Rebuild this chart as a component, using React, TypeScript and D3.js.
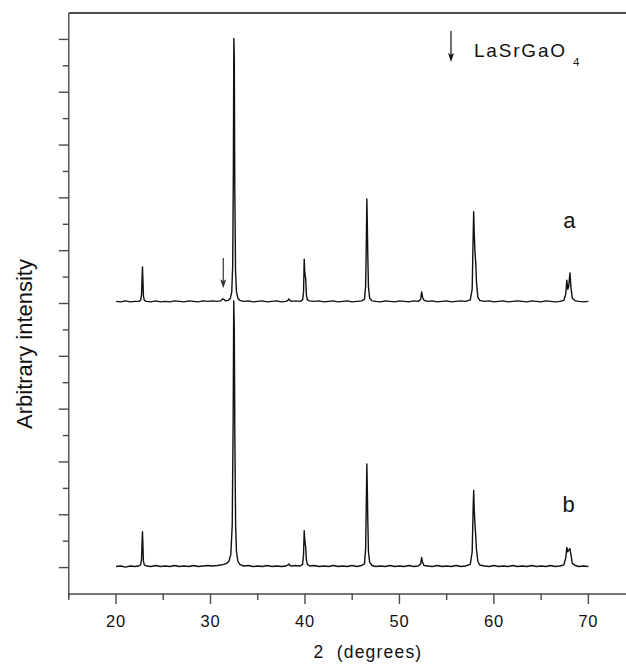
import React from "react";
import * as d3 from "d3";

// ---- data (2θ in degrees, intensity in arbitrary units) ----
const xMajorTicks = [20, 30, 40, 50, 60, 70];
const xMinorTicks = [15, 25, 35, 45, 55, 65, 75];
const yMajorTicks = [0, 1, 2, 3, 4, 5, 6, 7, 8, 9, 10];
const yMinorTicks = [0.5, 1.5, 2.5, 3.5, 4.5, 5.5, 6.5, 7.5, 8.5, 9.5];

const offsetA = 5.02;
const offsetB = 0.0;

const patternA: [number, number][] = [
  [20.0, 0.02], [20.5, 0.01], [21.0, 0.03], [21.5, 0.01], [22.0, 0.02], [22.4, 0.02], [22.6, 0.04],
  [22.7, 0.15], [22.75, 0.45], [22.8, 0.67], [22.85, 0.4], [22.9, 0.12], [23.0, 0.04], [23.2, 0.02],
  [23.7, 0.01], [24.2, 0.03], [24.7, 0.01], [25.2, 0.02], [25.7, 0.01], [26.2, 0.03], [26.7, 0.02],
  [27.2, 0.01], [27.7, 0.03], [28.2, 0.02], [28.7, 0.01], [29.2, 0.03], [29.7, 0.02], [30.2, 0.03],
  [30.7, 0.02], [31.1, 0.03], [31.3, 0.07], [31.4, 0.06], [31.6, 0.03], [31.9, 0.04], [32.1, 0.08],
  [32.25, 0.2], [32.35, 0.7], [32.42, 2.5], [32.47, 5.0], [32.52, 4.6], [32.57, 2.2], [32.65, 0.6],
  [32.75, 0.2], [32.9, 0.08], [33.1, 0.04], [33.5, 0.02], [34.0, 0.03], [34.5, 0.01], [35.0, 0.02],
  [35.5, 0.03], [36.0, 0.01], [36.5, 0.02], [37.0, 0.03], [37.5, 0.01], [38.0, 0.02], [38.2, 0.04],
  [38.3, 0.07], [38.4, 0.04], [38.6, 0.02], [39.0, 0.03], [39.5, 0.02], [39.75, 0.05], [39.85, 0.2],
  [39.92, 0.82], [39.97, 0.6], [40.03, 0.5], [40.08, 0.45], [40.15, 0.15], [40.25, 0.05], [40.5, 0.03],
  [41.0, 0.02], [41.5, 0.03], [42.0, 0.01], [42.5, 0.02], [43.0, 0.03], [43.5, 0.01], [44.0, 0.02],
  [44.5, 0.03], [45.0, 0.01], [45.5, 0.02], [46.0, 0.03], [46.3, 0.06], [46.42, 0.3], [46.5, 1.2],
  [46.55, 1.96], [46.6, 1.5], [46.65, 0.9], [46.72, 0.3], [46.85, 0.08], [47.1, 0.03], [47.5, 0.02],
  [48.0, 0.01], [48.5, 0.03], [49.0, 0.02], [49.5, 0.01], [50.0, 0.03], [50.5, 0.02], [51.0, 0.01],
  [51.5, 0.03], [52.0, 0.02], [52.25, 0.06], [52.35, 0.2], [52.45, 0.1], [52.6, 0.04], [53.0, 0.02],
  [53.5, 0.03], [54.0, 0.01], [54.5, 0.02], [55.0, 0.03], [55.5, 0.01], [56.0, 0.02], [56.5, 0.03],
  [57.0, 0.02], [57.5, 0.05], [57.7, 0.25], [57.8, 1.2], [57.86, 1.72], [57.92, 1.3], [58.0, 0.95],
  [58.08, 0.75], [58.15, 0.4], [58.3, 0.1], [58.5, 0.04], [59.0, 0.02], [59.5, 0.03], [60.0, 0.01],
  [60.5, 0.02], [61.0, 0.03], [61.5, 0.01], [62.0, 0.02], [62.5, 0.03], [63.0, 0.02], [63.5, 0.01],
  [64.0, 0.03], [64.5, 0.02], [65.0, 0.01], [65.5, 0.03], [66.0, 0.02], [66.5, 0.01], [67.0, 0.02],
  [67.4, 0.04], [67.6, 0.15], [67.72, 0.42], [67.82, 0.25], [67.92, 0.3], [68.05, 0.56], [68.15, 0.3],
  [68.3, 0.08], [68.6, 0.03], [69.0, 0.02], [69.5, 0.01], [70.0, 0.02],
];

const patternB: [number, number][] = [
  [20.0, 0.02], [20.5, 0.03], [21.0, 0.01], [21.5, 0.03], [22.0, 0.02], [22.4, 0.03], [22.6, 0.05],
  [22.7, 0.15], [22.75, 0.45], [22.8, 0.68], [22.85, 0.4], [22.9, 0.12], [23.0, 0.05], [23.2, 0.03],
  [23.7, 0.02], [24.2, 0.04], [24.7, 0.02], [25.2, 0.03], [25.7, 0.02], [26.2, 0.04], [26.7, 0.02],
  [27.2, 0.03], [27.7, 0.02], [28.2, 0.04], [28.7, 0.02], [29.2, 0.03], [29.7, 0.04], [30.2, 0.03],
  [30.7, 0.04], [31.1, 0.05], [31.4, 0.06], [31.7, 0.08], [31.95, 0.12], [32.15, 0.25], [32.3, 0.8],
  [32.4, 2.8], [32.46, 5.05], [32.52, 4.5], [32.58, 2.4], [32.66, 0.8], [32.75, 0.3], [32.9, 0.12],
  [33.1, 0.06], [33.5, 0.03], [34.0, 0.04], [34.5, 0.02], [35.0, 0.03], [35.5, 0.02], [36.0, 0.04],
  [36.5, 0.02], [37.0, 0.03], [37.5, 0.02], [38.0, 0.03], [38.2, 0.05], [38.3, 0.07], [38.4, 0.04],
  [38.6, 0.03], [39.0, 0.04], [39.5, 0.03], [39.75, 0.06], [39.85, 0.25], [39.92, 0.7], [39.97, 0.55],
  [40.03, 0.45], [40.08, 0.38], [40.15, 0.15], [40.25, 0.06], [40.5, 0.03], [41.0, 0.04], [41.5, 0.02],
  [42.0, 0.03], [42.5, 0.02], [43.0, 0.04], [43.5, 0.02], [44.0, 0.03], [44.5, 0.02], [45.0, 0.04],
  [45.5, 0.02], [46.0, 0.04], [46.3, 0.07], [46.42, 0.35], [46.5, 1.3], [46.55, 1.96], [46.6, 1.5],
  [46.65, 0.9], [46.72, 0.3], [46.85, 0.1], [47.1, 0.04], [47.5, 0.02], [48.0, 0.03], [48.5, 0.02],
  [49.0, 0.04], [49.5, 0.02], [50.0, 0.03], [50.5, 0.02], [51.0, 0.04], [51.5, 0.02], [52.0, 0.03],
  [52.25, 0.07], [52.35, 0.19], [52.45, 0.1], [52.6, 0.04], [53.0, 0.03], [53.5, 0.02], [54.0, 0.04],
  [54.5, 0.02], [55.0, 0.03], [55.5, 0.02], [56.0, 0.04], [56.5, 0.02], [57.0, 0.03], [57.5, 0.06],
  [57.7, 0.3], [57.8, 1.1], [57.86, 1.46], [57.92, 1.1], [58.0, 0.8], [58.08, 0.6], [58.15, 0.35],
  [58.3, 0.12], [58.5, 0.05], [59.0, 0.03], [59.5, 0.02], [60.0, 0.04], [60.5, 0.02], [61.0, 0.03],
  [61.5, 0.02], [62.0, 0.04], [62.5, 0.02], [63.0, 0.03], [63.5, 0.02], [64.0, 0.04], [64.5, 0.02],
  [65.0, 0.03], [65.5, 0.02], [66.0, 0.04], [66.5, 0.02], [67.0, 0.03], [67.4, 0.05], [67.6, 0.18],
  [67.72, 0.38], [67.82, 0.3], [67.92, 0.33], [68.05, 0.36], [68.15, 0.25], [68.3, 0.08], [68.6, 0.04],
  [69.0, 0.02], [69.5, 0.03], [70.0, 0.02],
];

const curveLabels = [
  { text: "a", x: 67.98, y: 6.42 },
  { text: "b", x: 67.9, y: 1.06 },
];

const phaseMarks = [{ x: 31.35, yTop: 5.86, yBottom: 5.29 }];
const legendLabel = "LaSrGaO";
const legendSub = "4";

function DownArrow({ x, y1, y2, color }: { x: number; y1: number; y2: number; color: string }) {
  const headLen = 9;
  const headHalf = 3;
  return (
    <g>
      <line x1={x} x2={x} y1={y1} y2={y2 - headLen + 2} stroke={color} strokeWidth={1.2} />
      <path d={`M${x - headHalf},${y2 - headLen} L${x},${y2} L${x + headHalf},${y2 - headLen} L${x},${y2 - headLen + 2} Z`} fill={color} />
    </g>
  );
}

export default function App() {
  const W = 626;
  const H = 664;
  const x = d3.scaleLinear().domain([15, 75]).range([68.8, 635.6]);
  const y = d3.scaleLinear().domain([-0.5, 10.5]).range([594, 13]);
  const left = x(15);
  const bottom = y(-0.5);
  const top = y(10.5);

  const lineA = d3
    .line<[number, number]>()
    .x((d) => x(d[0]))
    .y((d) => y(d[1] + offsetA));
  const lineB = d3
    .line<[number, number]>()
    .x((d) => x(d[0]))
    .y((d) => y(d[1] + offsetB));

  const axisColor = "#4a4a4a";
  const font = "'Liberation Sans', Arial, Helvetica, sans-serif";

  return (
    <svg
      width={W}
      height={H}
      style={{ position: "absolute", left: 0, top: 0, background: "#fff" }}
      fontFamily={font}
    >
      <rect x={0} y={0} width={W} height={H} fill="#fff" />

      {/* top frame line */}
      <line x1={left} x2={W} y1={top} y2={top} stroke="#111" strokeWidth={1.4} />
      {/* left axis */}
      <line x1={left} x2={left} y1={top} y2={bottom + 3} stroke={axisColor} strokeWidth={1.4} />
      {/* bottom axis */}
      <line x1={left} x2={W} y1={bottom} y2={bottom} stroke={axisColor} strokeWidth={1.4} />

      {yMajorTicks.map((t) => (
        <line key={"ym" + t} x1={left - 10} x2={left} y1={y(t)} y2={y(t)} stroke={axisColor} strokeWidth={1.4} />
      ))}
      {yMinorTicks.map((t) => (
        <line key={"yn" + t} x1={left - 6} x2={left} y1={y(t)} y2={y(t)} stroke={axisColor} strokeWidth={1.4} />
      ))}
      {xMajorTicks.map((t) => (
        <g key={"xm" + t}>
          <line x1={x(t)} x2={x(t)} y1={bottom} y2={bottom + 10} stroke={axisColor} strokeWidth={1.4} />
          <text x={x(t)} y={626.5} fontSize={16.5} letterSpacing={0.8} textAnchor="middle" fill="#111">
            {t}
          </text>
        </g>
      ))}
      {xMinorTicks.map((t) => (
        <line key={"xn" + t} x1={x(t)} x2={x(t)} y1={bottom} y2={bottom + 6} stroke={axisColor} strokeWidth={1.4} />
      ))}

      {/* patterns */}
      <path d={lineB(patternB) || ""} fill="none" stroke="#111" strokeWidth={1.4} strokeLinejoin="round" />
      <path d={lineA(patternA) || ""} fill="none" stroke="#111" strokeWidth={1.4} strokeLinejoin="round" />

      {/* phase marker arrow on pattern a */}
      {phaseMarks.map((m, i) => (
        <DownArrow key={"pm" + i} x={x(m.x)} y1={y(m.yTop)} y2={y(m.yBottom)} color="#333" />
      ))}

      {/* legend */}
      <DownArrow x={451} y1={31} y2={62} color="#111" />
      <text x={474} y={57} fontSize={19} letterSpacing={1.8} fill="#111">
        {legendLabel}
      </text>
      <text x={573} y={66} fontSize={11.5} fill="#111">
        {legendSub}
      </text>

      {curveLabels.map((l) => (
        <text key={l.text} x={x(l.x)} y={y(l.y)} fontSize={22} textAnchor="middle" fill="#111">
          {l.text}
        </text>
      ))}

      {/* axis titles */}
      <text x={368} y={658} fontSize={17.5} letterSpacing={1.2} textAnchor="middle" fill="#111" style={{ whiteSpace: "pre" }}>
        {"2  (degrees)"}
      </text>
      <text transform="translate(31.5,344) rotate(-90)" fontSize={22} textAnchor="middle" fill="#111">
        Arbitrary intensity
      </text>
    </svg>
  );
}
